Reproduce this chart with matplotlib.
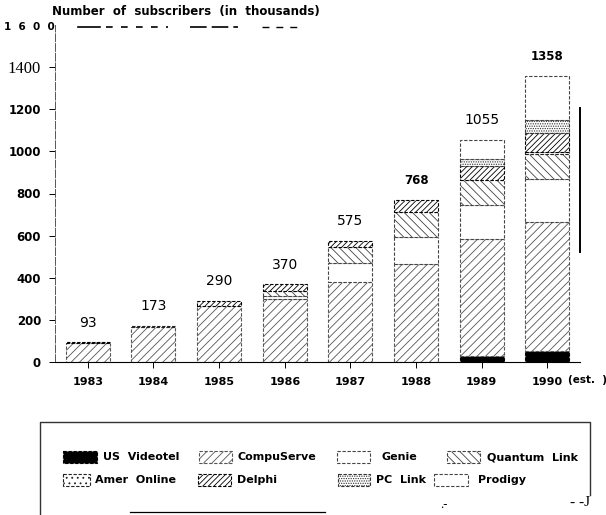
import numpy as np
import matplotlib
matplotlib.use('Agg')
import matplotlib.pyplot as plt
from matplotlib.patches import Rectangle

years = ['1983', '1984', '1985', '1986', '1987', '1988', '1989', '1990']
totals = [93, 173, 290, 370, 575, 768, 1055, 1358]

services = ['US Videotel', 'CompuServe', 'Genie', 'Quantum Link',
            'Amer Online', 'Delphi', 'PC Link', 'Prodigy']
us_videotel = [0, 0, 0, 0, 0, 0, 30, 50]
compuserve = [88, 165, 265, 300, 380, 465, 555, 614]
genie = [0, 0, 0, 12, 90, 129, 160, 204]
quantum_link = [0, 0, 0, 25, 76, 120, 119, 119]
amer_online = [0, 8, 0, 0, 0, 0, 0, 10]
delphi = [5, 0, 25, 33, 29, 54, 66, 90]
pc_link = [0, 0, 0, 0, 0, 0, 33, 61]
prodigy = [0, 0, 0, 0, 0, 0, 92, 210]
series = [us_videotel, compuserve, genie, quantum_link,
          amer_online, delphi, pc_link, prodigy]

# face colour, hatch, edge colour for each service
styles = [
    ('black', None, 'black'),
    ('white', '////', '#555555'),
    ('white', None, '#444444'),
    ('white', '\\\\\\\\', '#444444'),
    ('white', '...', '#222222'),
    ('white', '//////', 'black'),
    ('white', '.......', '#333333'),
    ('white', None, '#444444'),
]

plt.rcParams['font.family'] = ['DejaVu Sans']
plt.rcParams['hatch.linewidth'] = 0.6

fig = plt.figure(figsize=(6.06, 5.15), dpi=100)
ax = fig.add_axes([55 / 606, 1 - 362 / 515, 545 / 606, 337 / 515])

x = np.arange(len(years))
width = 0.67
bottom = np.zeros(len(years))
for vals, (fc, hatch, ec) in zip(series, styles):
    vals = np.array(vals, dtype=float)
    m = vals > 0
    ax.bar(x[m], vals[m], width, bottom=bottom[m], color=fc, hatch=hatch,
           edgecolor=ec, linewidth=0.8, linestyle=(0, (3, 1.5)), zorder=2)
    bottom += vals

bold_labels = {'768', '1358'}
for xi, t in zip(x, totals):
    s = str(t)
    ax.annotate(s, (xi, t), xytext=(0, 14), textcoords='offset points',
                ha='center', va='center',
                fontsize=8.5 if s in bold_labels else 10,
                fontweight='bold' if s in bold_labels else 'normal')

ax.set_xlim(-0.5, 7.8)
ax.set_ylim(0, 1600)
ax.set_xticks(x)
ax.set_xticklabels(years, fontsize=8, fontweight='bold')
ax.set_yticks(range(0, 1601, 200))
ylabels = ['0', '200', '400', '600', '800', '1000', '1200', '1400', '']
ax.set_yticklabels(ylabels, fontsize=8.5, fontweight='bold')
ylabs = ax.get_yticklabels()
ylabs[7].set_fontfamily('Liberation Serif')
ylabs[7].set_fontweight('normal')
ylabs[7].set_fontsize(12)
ax.tick_params(axis='y', length=4, width=0.7, pad=6)
ax.tick_params(axis='x', length=4, width=0.7, pad=7)
ax.yaxis.get_major_ticks()[-1].tick1line.set_visible(False)

for side in ['top', 'right']:
    ax.spines[side].set_visible(False)
ax.spines['left'].set_linewidth(0.7)
ax.spines['left'].set_color('#555555')
ax.spines['left'].set_linestyle((0, (8, 2)))
ax.spines['bottom'].set_linewidth(0.8)
ax.spines['bottom'].set_bounds(-0.5, 7.5)

# overlay in figure pixels for title, broken frame and legend
ov = fig.add_axes([0, 0, 1, 1], zorder=5)
ov.set_xlim(0, 606)
ov.set_ylim(515, 0)
ov.axis('off')

ov.text(52, 12, 'Number  of  subscribers  (in  thousands)', fontsize=8.5,
        fontweight='bold', va='center', ha='left')
ov.text(4, 27, '1  6  0  0', fontsize=7.5, fontweight='bold', va='center', ha='left')
ov.text(568, 380, '(est.  )', fontsize=7.5, fontweight='bold', va='center',
        ha='left')
ov.plot([78, 100], [27, 27], color='black', lw=1.2)
ov.plot([106, 168], [27, 27], color='black', lw=1.2, linestyle=(0, (4, 5)))
ov.plot([190, 238], [27, 27], color='black', lw=1.2, linestyle=(0, (10, 3)))
ov.plot([262, 300], [27, 27], color='black', lw=1.0, linestyle=(0, (5, 5)))
ov.plot([580, 580], [108, 252], color='black', lw=1.4)

# legend frame
ov.plot([40, 40, 590, 590], [515, 422, 422, 495], color='#333333', lw=1.0)
ov.plot([130, 325], [512, 512], color='black', lw=0.9)
ov.text(440, 505, '.-', fontsize=9, ha='left', va='center',
        family='Liberation Serif')
ov.text(570, 503, '- -J', fontsize=11, ha='left', va='center',
        family='Liberation Serif')

swatches = [(63, 457, 34), (199, 457, 33), (337, 457, 33), (447, 457, 33),
            (63, 480, 27), (198, 480, 33), (338, 480, 32), (434, 480, 34)]
text_x = [103, 238, 382, 487, 95, 237, 376, 478]
for name, (sx, sy, sw), tx, (fc, hatch, ec) in zip(services, swatches, text_x, styles):
    ov.add_patch(Rectangle((sx, sy - 6), sw, 12, facecolor=fc, hatch=hatch,
                           edgecolor=ec, linewidth=0.8,
                           linestyle=(0, (3, 1.5))))
    ov.text(tx, sy, name.replace(' ', '  '), fontsize=8, fontweight='bold',
            va='center', ha='left')

fig.savefig('out.png', dpi=100)
